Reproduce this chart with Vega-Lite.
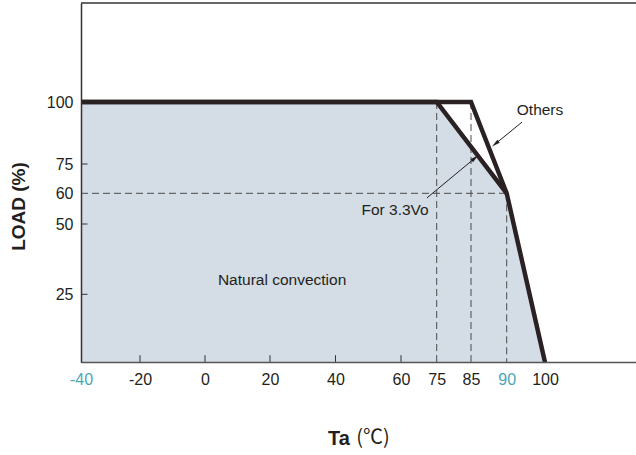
{
  "$schema": "https://vega.github.io/schema/vega-lite/v6.json",
  "width": 555,
  "height": 359,
  "autosize": {"type": "none"},
  "padding": {"left": 81, "top": 3, "right": 0, "bottom": 93},
  "background": "white",
  "config": {
    "view": {"stroke": null},
    "font": "Liberation Sans",
    "axis": {"grid": false}
  },
  "datasets": {
    "fill": [
      {"ta": -40, "load": 100},
      {"ta": 75, "load": 100},
      {"ta": 90, "load": 60},
      {"ta": 100, "load": 0}
    ],
    "curves": [
      {"series": "Others", "ta": -40, "load": 100, "o": 1},
      {"series": "Others", "ta": 85, "load": 100, "o": 2},
      {"series": "Others", "ta": 90, "load": 60, "o": 3},
      {"series": "Others", "ta": 100, "load": 0, "o": 4},
      {"series": "For 3.3Vo", "ta": -40, "load": 100, "o": 1},
      {"series": "For 3.3Vo", "ta": 75, "load": 100, "o": 2},
      {"series": "For 3.3Vo", "ta": 90, "load": 60, "o": 3}
    ],
    "guides": [
      {"ta": -40, "load": 60, "ta2": 90, "load2": 60},
      {"ta": 75, "load": 100, "ta2": 75, "load2": 0},
      {"ta": 85, "load": 100, "ta2": 85, "load2": 0},
      {"ta": 90, "load": 60, "ta2": 90, "load2": 0}
    ],
    "ticks": [
      {"ta": -20, "load": 0, "ta2": -20, "load2": 2.6},
      {"ta": 0, "load": 0, "ta2": 0, "load2": 2.6},
      {"ta": 20, "load": 0, "ta2": 20, "load2": 2.6},
      {"ta": 40, "load": 0, "ta2": 40, "load2": 2.6},
      {"ta": 60, "load": 0, "ta2": 60, "load2": 2.6},
      {"ta": -40, "load": 25, "ta2": -37.8, "load2": 25},
      {"ta": -40, "load": 50, "ta2": -37.8, "load2": 50},
      {"ta": -40, "load": 75, "ta2": -37.8, "load2": 75}
    ],
    "arrows": [
      {"name": "Others", "ta": 94.0, "load": 91.9, "ta2": 88.4, "load2": 83.1},
      {"name": "For 3.3Vo", "ta": 70.9, "load": 58.5, "ta2": 85.56, "load2": 77.4}
    ],
    "labels": [
      {"label": "Others", "ta": 98.7, "load": 96.8},
      {"label": "For 3.3Vo", "ta": 58.2, "load": 54.6},
      {"label": "Natural convection", "ta": 23.7, "load": 30.1}
    ],
    "unit": [
      {"label": "(℃)", "ta": 51.45, "load": -27.8}
    ],
    "top": [{"load": 140}]
  },
  "layer": [
    {
      "data": {"name": "fill"},
      "mark": {"type": "area", "color": "#d4dce5"},
      "encoding": {
        "x": {
          "field": "ta", "type": "quantitative",
          "scale": {
            "domain": [-40, -20, 0, 20, 40, 60, 75, 85, 90, 100, 125],
            "range": [0, 59, 124, 189, 254.5, 320, 355.7, 390, 425.7, 464, 555],
            "nice": false, "zero": false
          },
          "axis": {
            "orient": "bottom",
            "zindex": 1,
            "ticks": false,
            "values": [-40, -20, 0, 20, 40, 60, 75, 85, 90, 100],
            "labelExpr": "'' + datum.value",
            "title": "Ta",
            "titleFont": "Liberation Sans",
            "titleFontSize": 20,
            "titleFontWeight": "bold",
            "titleColor": "#231f20",
            "titleX": 257.5,
            "titleY": 76,
            "titleAlign": "center",
            "titleBaseline": "middle",
            "domainColor": "#555555",
            "domainWidth": 1.5,
            "labelPadding": 9,
            "labelFontSize": 16,
            "labelColor": {"condition": {"test": "datum.value == -40 || datum.value == 90", "value": "#4aa7b6"}, "value": "#231f20"},
            "labelFlush": false,
            "labelOverlap": false
          }
        },
        "y": {
          "field": "load", "type": "quantitative",
          "scale": {
            "domain": [0, 25, 50, 60, 75, 100, 140],
            "range": [359.3, 291.3, 221, 190.3, 161, 99, 0],
            "nice": false, "zero": false
          },
          "axis": {
            "zindex": 1,
            "ticks": false,
            "values": [25, 50, 60, 75, 100],
            "title": "LOAD (%)",
            "titleFont": "Liberation Sans",
            "titleFontSize": 19,
            "titleFontWeight": "bold",
            "titleColor": "#231f20",
            "titleAngle": 270,
            "titleX": -63,
            "titleY": 203,
            "titleAlign": "center",
            "titleBaseline": "middle",
            "domainColor": "#333333",
            "domainWidth": 1.5,
            "labelPadding": 8,
            "labelFontSize": 16,
            "labelColor": "#231f20",
            "labelOverlap": false
          }
        },
        "y2": {"datum": 0}
      }
    },
    {
      "data": {"name": "ticks"},
      "mark": {"type": "rule", "color": "#333333", "strokeWidth": 1},
      "encoding": {
        "x": {"field": "ta", "type": "quantitative"},
        "y": {"field": "load", "type": "quantitative"},
        "x2": {"field": "ta2"},
        "y2": {"field": "load2"}
      }
    },
    {
      "data": {"name": "top"},
      "mark": {"type": "rule", "color": "#333333", "strokeWidth": 1.5},
      "encoding": {"y": {"field": "load", "type": "quantitative"}}
    },
    {
      "data": {"name": "guides"},
      "mark": {"type": "rule", "color": "#4a4a4a", "strokeWidth": 1, "strokeDash": [7, 4]},
      "encoding": {
        "x": {"field": "ta", "type": "quantitative"},
        "y": {"field": "load", "type": "quantitative"},
        "x2": {"field": "ta2"},
        "y2": {"field": "load2"}
      }
    },
    {
      "data": {"name": "curves"},
      "mark": {"type": "line", "color": "#2a2122", "strokeWidth": 4.5, "strokeJoin": "miter", "strokeCap": "butt"},
      "encoding": {
        "x": {"field": "ta", "type": "quantitative"},
        "y": {"field": "load", "type": "quantitative"},
        "detail": {"field": "series"},
        "order": {"field": "o"}
      }
    },
    {
      "data": {"name": "arrows"},
      "mark": {"type": "rule", "color": "#231f20", "strokeWidth": 1},
      "encoding": {
        "x": {"field": "ta", "type": "quantitative"},
        "y": {"field": "load", "type": "quantitative"},
        "x2": {"field": "ta2"},
        "y2": {"field": "load2"}
      }
    },
    {
      "data": {"name": "arrows"},
      "mark": {"type": "point", "filled": true, "color": "#231f20", "opacity": 1, "shape": "M0,-1L0.45,1L-0.45,1Z", "size": 70},
      "encoding": {
        "x": {"field": "ta2", "type": "quantitative"},
        "y": {"field": "load2", "type": "quantitative"},
        "angle": {"condition": {"test": "datum.name == 'Others'", "value": 231.8}, "value": 50.2}
      }
    },
    {
      "data": {"name": "labels"},
      "mark": {"type": "text", "fontSize": 15.5, "color": "#231f20", "align": "center", "baseline": "middle"},
      "encoding": {
        "x": {"field": "ta", "type": "quantitative"},
        "y": {"field": "load", "type": "quantitative"},
        "text": {"field": "label"}
      }
    },
    {
      "data": {"name": "unit"},
      "mark": {"type": "text", "fontSize": 20, "font": "Noto Sans CJK SC", "color": "#231f20", "align": "center", "baseline": "middle", "clip": false},
      "encoding": {
        "x": {"field": "ta", "type": "quantitative"},
        "y": {"field": "load", "type": "quantitative"},
        "text": {"field": "label"}
      }
    }
  ]
}
